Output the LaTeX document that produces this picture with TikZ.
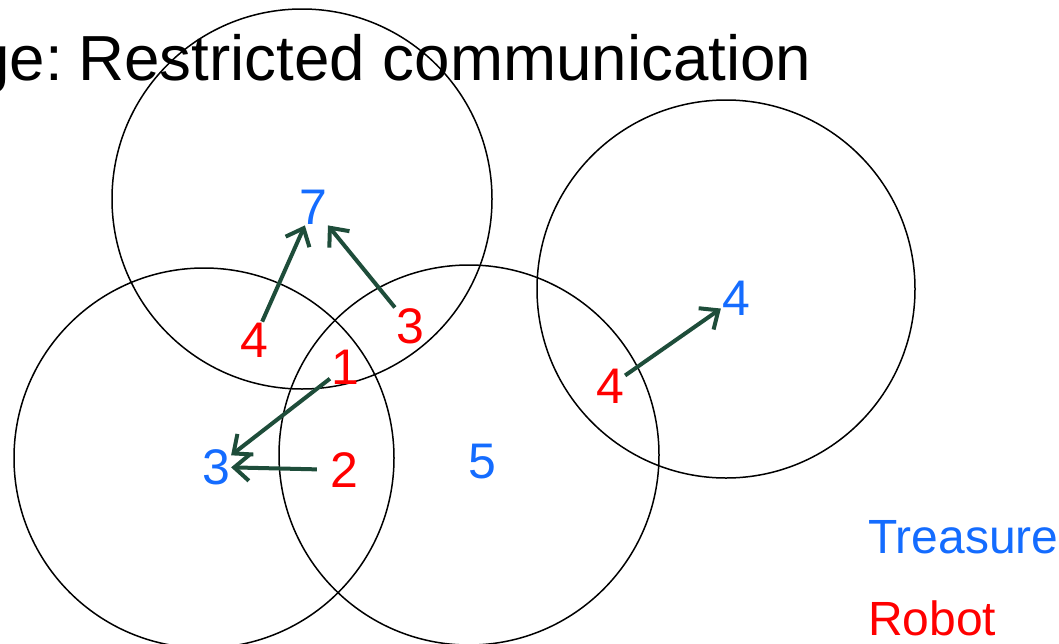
\documentclass[tikz,border=0pt]{standalone}
\usepackage{fontspec}
\setmainfont{Liberation Sans}
\usetikzlibrary{arrows.meta}
\definecolor{tblue}{RGB}{20,108,255}
\definecolor{rred}{RGB}{255,0,0}
\definecolor{agreen}{RGB}{30,77,58}
\begin{document}
\begin{tikzpicture}[x=1pt,y=-1pt,
  rangecircle/.style={draw=black,line width=1.5pt},
  treasurelbl/.style={text=tblue,inner sep=1pt,font=\fontsize{50}{60}\selectfont},
  robotlbl/.style={text=rred,inner sep=1pt,font=\fontsize{50}{60}\selectfont},
  movearrow/.style={draw=agreen,line width=4pt,-{Straight Barb[length=15pt,width=26pt,line width=4pt]}},
  legendtext/.style={anchor=base west,inner sep=0pt,font=\fontsize{48}{58}\selectfont}]
\useasboundingbox (0,0) rectangle (1059,643);
\fill[white] (0,0) rectangle (1059,643);
% title
\node[anchor=base west,inner sep=0pt,font=\fontsize{63.7}{70}\selectfont] (title) at (-26,80) {ge:\kern-2pt\ Restricted communication};
% ranges
\draw[rangecircle] (302,199) circle (190);
\draw[rangecircle] (204,458) circle (190);
\draw[rangecircle] (469,455) circle (190);
\draw[rangecircle] (726,289) circle (189);
% treasures
\node[treasurelbl] (t7) at (313,207) {7};
\node[treasurelbl] (t3) at (216,467) {3};
\node[treasurelbl] (t5) at (482,462) {5};
\node[treasurelbl] (t4) at (736,298) {4};
% robots
\node[robotlbl] (r4) at (254,340) {4};
\node[robotlbl] (r3) at (410,326) {3};
\node[robotlbl] (r1) at (345,367) {1};
\node[robotlbl] (r2) at (344,470) {2};
\node[robotlbl] (r4b) at (610,386) {4};
% moves
\draw[movearrow] (r4) -- (t7);
\draw[movearrow] (r3) -- (t7);
\draw[movearrow] (r1) -- (t3);
\draw[movearrow,shorten <=12pt] (r2) -- (t3);
\draw[movearrow] (r4b) -- (t4);
% legend
\node[legendtext,text=tblue] (lt) at (868,553) {Treasure};
\node[legendtext,text=rred] (lr) at (868,635) {Robot};
\end{tikzpicture}
\end{document}
